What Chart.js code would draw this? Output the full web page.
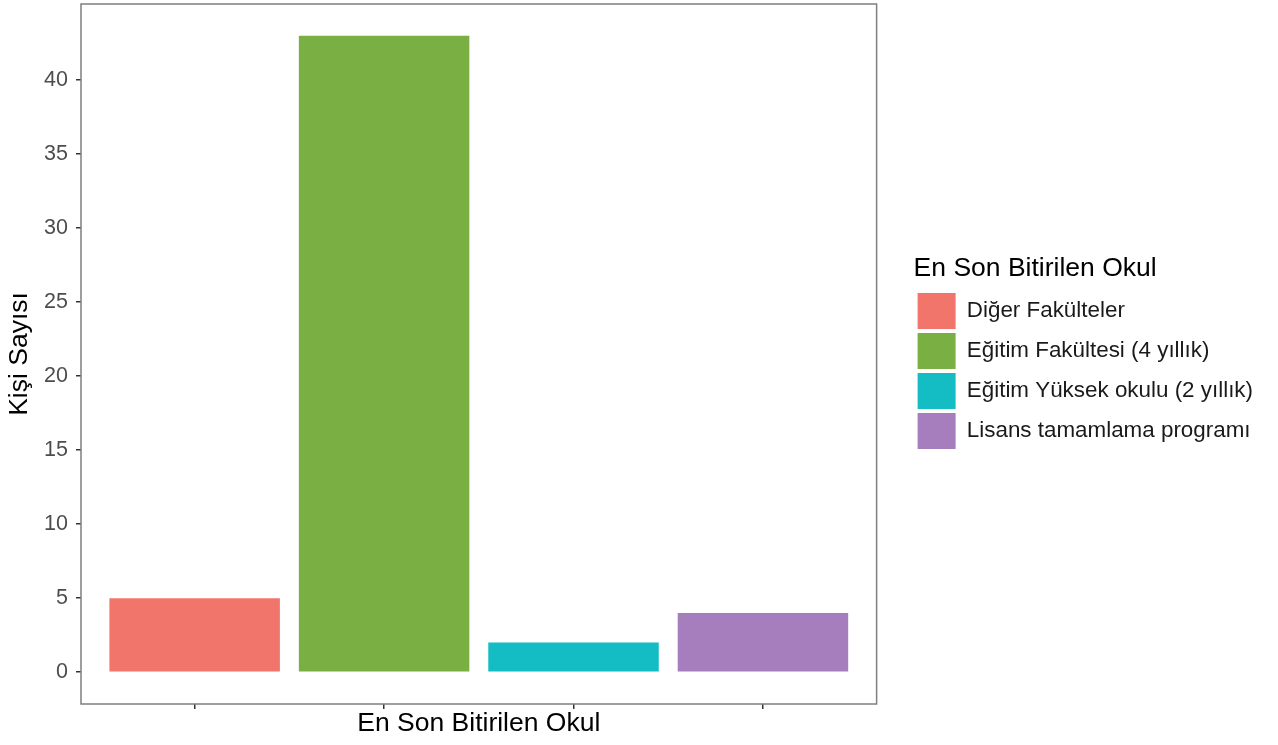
<!DOCTYPE html>
<html>
<head>
<meta charset="utf-8">
<script src="https://cdn.jsdelivr.net/npm/chart.js@4/dist/chart.umd.min.js"></script>
<style>
  body { margin: 0; background: #fff; }
  #wrap { width: 1278px; height: 745px; }
</style>
</head>
<body>
<div id="wrap"><canvas id="myChart"></canvas></div>
<script>
let schools = ["Diğer Fakülteler", "Eğitim Fakültesi (4 yıllık)", "Eğitim Yüksek okulu (2 yıllık)", "Lisans tamamlama programı"];
let counts = [5, 43, 2, 4];
let barColors = ["#F2756C", "#7AB043", "#14BDC4", "#A67EBD"];
let yTicks = [0, 5, 10, 15, 20, 25, 30, 35, 40];
let xTitle = "En Son Bitirilen Okul";
let yTitle = "Kişi Sayısı";
let legendTitle = "En Son Bitirilen Okul";

const font = "'Liberation Sans', Arial, sans-serif";

// grey frame around the panel, like theme_bw
const panelBorder = {
  id: 'panelBorder',
  afterDraw(chart) {
    let a = chart.chartArea;
    let ctx = chart.ctx;
    ctx.save();
    ctx.strokeStyle = "#7f7f7f";
    ctx.lineWidth = 1.5;
    ctx.strokeRect(a.left, a.top, a.right - a.left, a.bottom - a.top);
    ctx.restore();
  }
};

window.onload = function () {
  let ctx = document.getElementById('myChart').getContext('2d');

  let datasets = schools.map(function (s, i) {
    return {
      label: s,
      data: [{ x: i + 1, y: counts[i] }],
      backgroundColor: barColors[i],
      borderWidth: 0,
      grouped: false,
      barPercentage: 0.9,
      categoryPercentage: 1
    };
  });

  window.myChart = new Chart(ctx, {
    type: 'bar',
    data: { datasets: datasets },
    options: {
      responsive: true,
      maintainAspectRatio: false,
      animation: false,
      layout: { padding: { top: 4, left: 0, bottom: 0, right: 15 } },
      plugins: {
        tooltip: { enabled: false },
        legend: {
          position: 'right',
          fullSize: false,
          align: 'center',
          maxWidth: 400,
          title: {
            display: true,
            text: legendTitle,
            position: 'start',
            color: "#000",
            font: { family: font, size: 26.5 },
            padding: { top: 0, bottom: 2 }
          },
          labels: {
            boxWidth: 38,
            boxHeight: 36,
            padding: 4,
            color: "#1a1a1a",
            font: { family: font, size: 22.4 }
          }
        }
      },
      scales: {
        x: {
          type: 'linear',
          min: 0.4,
          max: 4.6,
          offset: false,
          afterBuildTicks: function (s) { s.ticks = [1, 2, 3, 4].map(v => ({ value: v })); },
          afterFit: function (s) { s.height = 41; s.paddingLeft = 0; s.paddingRight = 0; },
          ticks: { callback: () => "", padding: 0 },
          grid: { offset: false, drawOnChartArea: false, drawTicks: true, tickLength: 5, color: "#333", lineWidth: 1.5 },
          border: { display: false },
          title: {
            display: true,
            text: xTitle,
            color: "#000",
            font: { family: font, size: 26.5 },
            padding: { top: 0, bottom: 5 }
          }
        },
        y: {
          min: -2.15,
          max: 45.15,
          afterBuildTicks: function (s) { s.ticks = yTicks.map(v => ({ value: v })); },
          afterFit: function (s) { s.width = 81; s.paddingTop = 0; s.paddingBottom = 0; },
          ticks: { color: "#4d4d4d", padding: 8, font: { family: font, size: 21.5 } },
          grid: { drawOnChartArea: false, drawTicks: true, tickLength: 5, color: "#333", lineWidth: 1.5 },
          border: { display: false },
          title: {
            display: true,
            text: yTitle,
            color: "#000",
            font: { family: font, size: 26.5 },
            padding: { top: 4, bottom: 0 }
          }
        },
        gap: {
          type: 'linear',
          position: 'right',
          display: true,
          ticks: { display: false },
          grid: { display: false },
          border: { display: false },
          afterFit: function (s) { s.width = 37; s.paddingTop = 0; s.paddingBottom = 0; }
        }
      }
    },
    plugins: [panelBorder]
  });
};
</script>
</body>
</html>
